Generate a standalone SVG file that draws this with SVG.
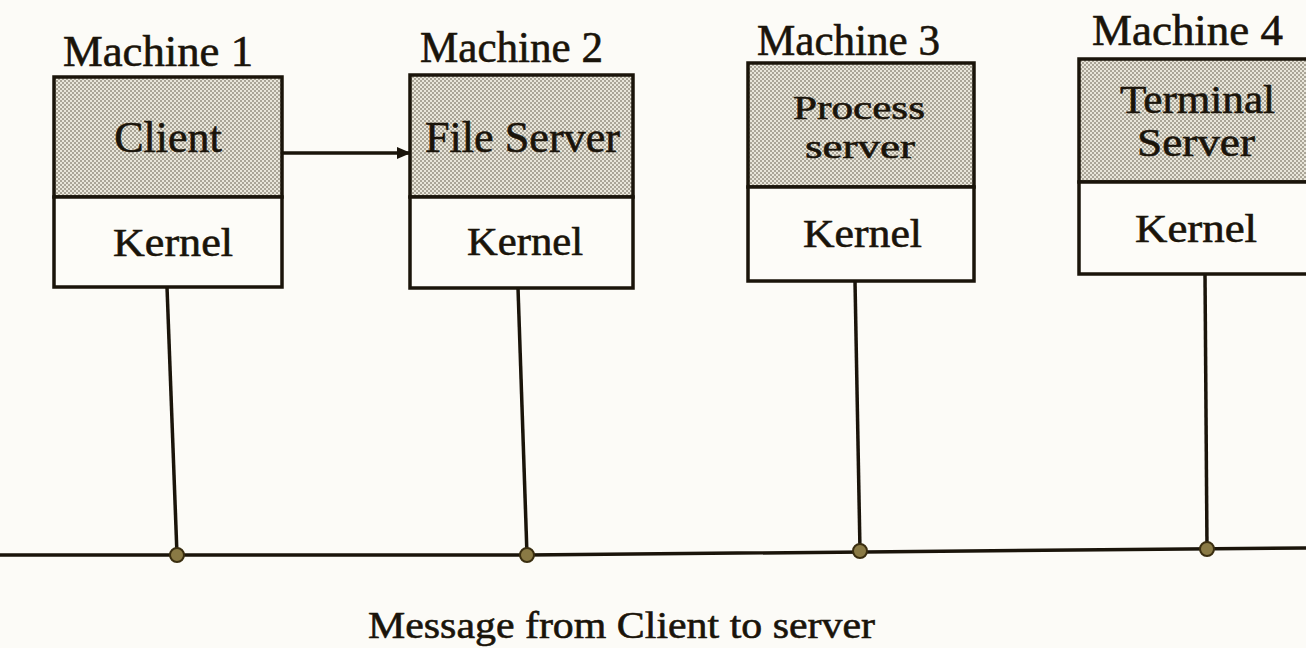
<svg xmlns="http://www.w3.org/2000/svg" width="1306" height="648" viewBox="0 0 1306 648">
<defs>
<pattern id="stip" width="4" height="4" patternUnits="userSpaceOnUse">
<rect width="4" height="4" fill="#e9e6da"/>
<circle cx="1" cy="1" r="0.8" fill="#5a5342"/>
<circle cx="3" cy="3" r="0.8" fill="#5a5342"/>
</pattern>
<marker id="arr" markerWidth="14" markerHeight="12" refX="13" refY="6" orient="auto" markerUnits="userSpaceOnUse">
<path d="M0,0 L14,6 L0,12 Z" fill="#1a140a"/>
</marker>
<style>
.box{fill:#fdfcf8;stroke:#1a140a;stroke-width:3.5}
.shade{fill:url(#stip);stroke:#1a140a;stroke-width:3.5}
.lbl{font-family:"Liberation Serif","Times New Roman",serif;fill:#1a140a;stroke:#1a140a;stroke-width:0.6}
.mach{font-size:44px}
.in{font-size:44px;text-anchor:middle}
.kern{font-size:40px}
.wire{stroke:#1a140a;stroke-width:3.5;fill:none}
.dot{fill:#8a7a45;stroke:#3a2e10;stroke-width:2}
</style>
</defs>
<rect width="1306" height="648" fill="#fcfbf7"/>

<g id="machine1">
<text class="lbl mach" x="63" y="66" textLength="190" lengthAdjust="spacingAndGlyphs">Machine 1</text>
<rect class="shade" x="54" y="77" width="228" height="120"/>
<rect class="box" x="54" y="197" width="228" height="90"/>
<text class="lbl in" x="168" y="152">Client</text>
<text class="lbl kern" x="113" y="256" textLength="120" lengthAdjust="spacingAndGlyphs">Kernel</text>
</g>

<g id="machine2">
<text class="lbl mach" x="420" y="62" textLength="183" lengthAdjust="spacingAndGlyphs">Machine 2</text>
<rect class="shade" x="410" y="75" width="223" height="122"/>
<rect class="box" x="410" y="197" width="223" height="91"/>
<text class="lbl" x="425" y="152" font-size="44" textLength="195" lengthAdjust="spacingAndGlyphs">File Server</text>
<text class="lbl kern" x="467" y="255" textLength="116" lengthAdjust="spacingAndGlyphs">Kernel</text>
</g>

<g id="machine3">
<text class="lbl mach" x="757" y="55" textLength="183" lengthAdjust="spacingAndGlyphs">Machine 3</text>
<rect class="shade" x="748" y="63" width="226" height="124"/>
<rect class="box" x="748" y="187" width="226" height="94"/>
<text class="lbl" x="793" y="119" font-size="34" textLength="132" lengthAdjust="spacingAndGlyphs">Process</text>
<text class="lbl" x="805" y="158" font-size="34" textLength="110" lengthAdjust="spacingAndGlyphs">server</text>
<text class="lbl kern" x="803" y="247" textLength="119" lengthAdjust="spacingAndGlyphs">Kernel</text>
</g>

<g id="machine4">
<text class="lbl mach" x="1092" y="45" textLength="191" lengthAdjust="spacingAndGlyphs">Machine 4</text>
<rect class="shade" x="1079" y="59" width="240" height="123"/>
<rect class="box" x="1079" y="182" width="240" height="92"/>
<text class="lbl" x="1120" y="113" font-size="40" textLength="155" lengthAdjust="spacingAndGlyphs">Terminal</text>
<text class="lbl" x="1137" y="156" font-size="40" textLength="118" lengthAdjust="spacingAndGlyphs">Server</text>
<text class="lbl kern" x="1135" y="242" textLength="122" lengthAdjust="spacingAndGlyphs">Kernel</text>
</g>

<g id="connectors">
<line class="wire" x1="282" y1="153" x2="410" y2="153" marker-end="url(#arr)"/>
<polyline class="wire" points="0,555 527,555 1306,548"/>
<line class="wire" x1="167" y1="287" x2="177" y2="555"/>
<line class="wire" x1="518" y1="288" x2="527" y2="555"/>
<line class="wire" x1="855" y1="281" x2="860" y2="551"/>
<line class="wire" x1="1205" y1="274" x2="1207" y2="549"/>
<circle class="dot" cx="177" cy="555" r="7"/>
<circle class="dot" cx="527" cy="555" r="7"/>
<circle class="dot" cx="860" cy="551" r="7"/>
<circle class="dot" cx="1207" cy="549" r="7"/>
</g>

<g id="caption">
<text class="lbl" x="368" y="638" font-size="38" textLength="507" lengthAdjust="spacingAndGlyphs">Message from Client to server</text>
</g>
</svg>
